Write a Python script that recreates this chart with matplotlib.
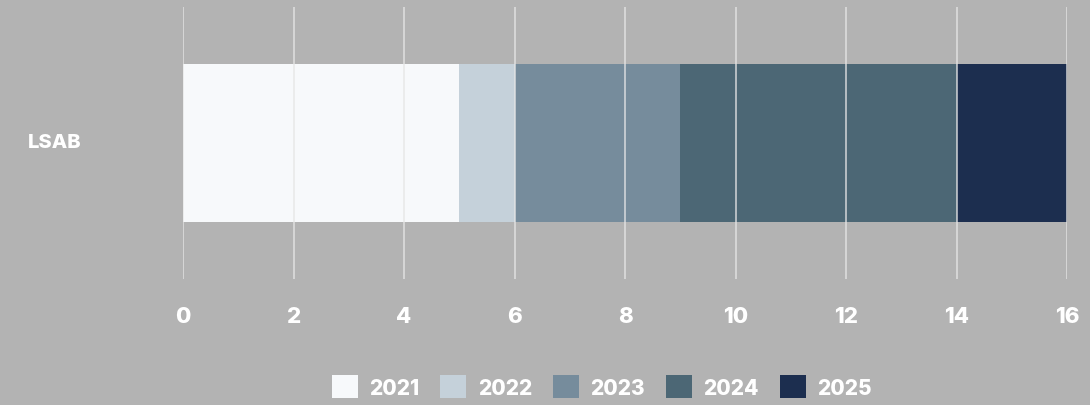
import matplotlib.pyplot as plt
from matplotlib.patches import Patch

plt.rcParams['font.family'] = ['Inter', 'DejaVu Sans']

categories = ['LSAB']
years = ['2021', '2022', '2023', '2024', '2025']
values = {
    '2021': [5],
    '2022': [1],
    '2023': [3],
    '2024': [5],
    '2025': [2],
}
x_ticks = [0, 2, 4, 6, 8, 10, 12, 14, 16]

colors = ['#f7f9fb', '#c5d1da', '#768c9c', '#4c6775', '#1c2e4f']
bg = '#b3b3b3'


def plot_stacked_bar():
    fig = plt.figure(figsize=(10.9, 4.06), dpi=100, facecolor=bg)
    ax = fig.add_axes([0.168, 0.31, 0.811, 0.67], facecolor=bg)

    left = [0] * len(categories)
    for year, color in zip(years, colors):
        ax.barh(categories, values[year], left=left, height=0.58,
                color=color, linewidth=0, zorder=1)
        left = [a + b for a, b in zip(left, values[year])]

    ax.set_xlim(0, 16)
    ax.set_ylim(-0.5, 0.5)
    ax.set_xticks(x_ticks)
    ax.set_xticklabels([str(t) for t in x_ticks])
    ax.grid(axis='x', color='#e6e6e6', linewidth=1.3, alpha=0.75, zorder=3)
    ax.set_axisbelow(False)
    for spine in ax.spines.values():
        spine.set_visible(False)

    ax.tick_params(axis='x', length=0, pad=19, labelsize=16,
                   labelcolor='white')
    for lbl in ax.get_xticklabels():
        lbl.set_fontweight('heavy')
    ax.set_yticks([])
    fig.text(0.026, 0.647, categories[0], color='white', fontsize=14.5,
             fontweight='heavy', va='center', ha='left')

    handles = [Patch(facecolor=c, edgecolor='none') for c in colors]
    fig.legend(handles, years, loc='center', bbox_to_anchor=(0.552, 0.045),
               ncol=5, frameon=False, handlelength=1.25, handleheight=1.3,
               handletextpad=0.55, columnspacing=1.0,
               prop={'size': 15, 'weight': 'heavy'}, labelcolor='white')

    plt.savefig('out.png', facecolor=bg)


if __name__ == '__main__':
    plot_stacked_bar()
